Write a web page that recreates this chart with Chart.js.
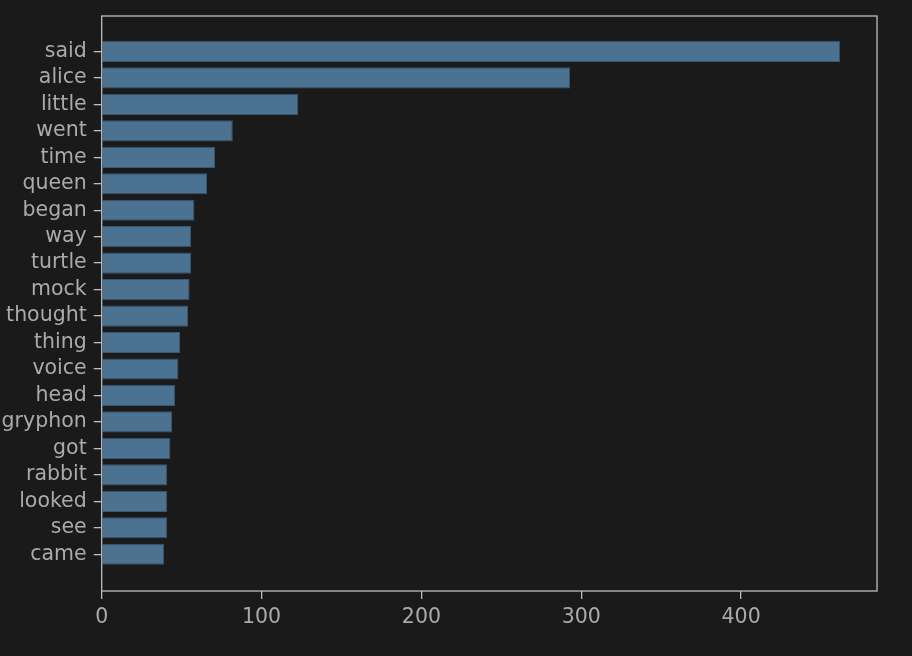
<!DOCTYPE html>
<html>
<head>
<meta charset="utf-8">
<script src="https://cdn.jsdelivr.net/npm/chart.js@4/dist/chart.umd.min.js"></script>
<style>
html,body{margin:0;padding:0;background:#1a1a1a;}
#wrap{width:912px;height:656px;}
</style>
</head>
<body>
<div id="wrap"><canvas id="c" width="912" height="656"></canvas></div>
<script>
const words = ["said","alice","little","went","time","queen","began","way","turtle","mock","thought","thing","voice","head","gryphon","got","rabbit","looked","see","came"];
const counts = [462,293,123,82,71,66,58,56,56,55,54,49,48,46,44,43,41,41,41,39];
const xTicks = [0,100,200,300,400];

const BG = '#1a1a1a', FG = '#aaaaaa', FRAME = '#bdbdbd';
const FONT = {family: "'DejaVu Sans', sans-serif", size: 20.5};

const framePlugin = {
  id: 'frame',
  afterDraw(chart) {
    const a = chart.chartArea, ctx = chart.ctx;
    ctx.save();
    ctx.strokeStyle = FRAME;
    ctx.lineWidth = 1.3;
    ctx.strokeRect(a.left, a.top, a.right - a.left, a.bottom - a.top);
    ctx.restore();
  }
};

function noPad(s) { s.paddingTop = 0; s.paddingBottom = 0; s.paddingLeft = 0; s.paddingRight = 0; }

new Chart(document.getElementById('c'), {
  type: 'bar',
  data: {
    datasets: [{
      data: words.map((w, i) => ({x: counts[i], y: i})),
      backgroundColor: '#4c7292',
      borderColor: '#3a5670',
      borderWidth: 1,
      barPercentage: 0.8,
      categoryPercentage: 1.0
    }]
  },
  options: {
    indexAxis: 'y',
    responsive: false,
    animation: false,
    devicePixelRatio: 1,
    layout: {autoPadding: false, padding: {left: 0, top: 16, right: 35, bottom: 0}},
    plugins: {legend: {display: false}, tooltip: {enabled: false}},
    scales: {
      x: {
        type: 'linear',
        min: 0, max: 485,
        offset: false,
        afterBuildTicks: s => { s.ticks = xTicks.map(v => ({value: v})); },
        afterFit: s => { s.height = 65; noPad(s); },
        grid: {display: true, offset: false, drawOnChartArea: false, drawTicks: true, tickLength: 8, color: FRAME, lineWidth: 1.3},
        border: {display: false},
        ticks: {color: FG, font: FONT, padding: 6, maxRotation: 0}
      },
      y: {
        type: 'linear',
        reverse: true,
        offset: false,
        min: -1.34, max: 20.39,
        afterBuildTicks: s => { s.ticks = words.map((w, i) => ({value: i})); },
        afterFit: s => { s.width = 101.7; noPad(s); },
        grid: {display: true, offset: false, drawOnChartArea: false, drawTicks: true, tickLength: 8, color: FRAME, lineWidth: 1.3},
        border: {display: false},
        ticks: {color: FG, font: FONT, padding: 7, autoSkip: false, callback: v => words[v]}
      }
    }
  },
  plugins: [framePlugin]
});
</script>
</body>
</html>
